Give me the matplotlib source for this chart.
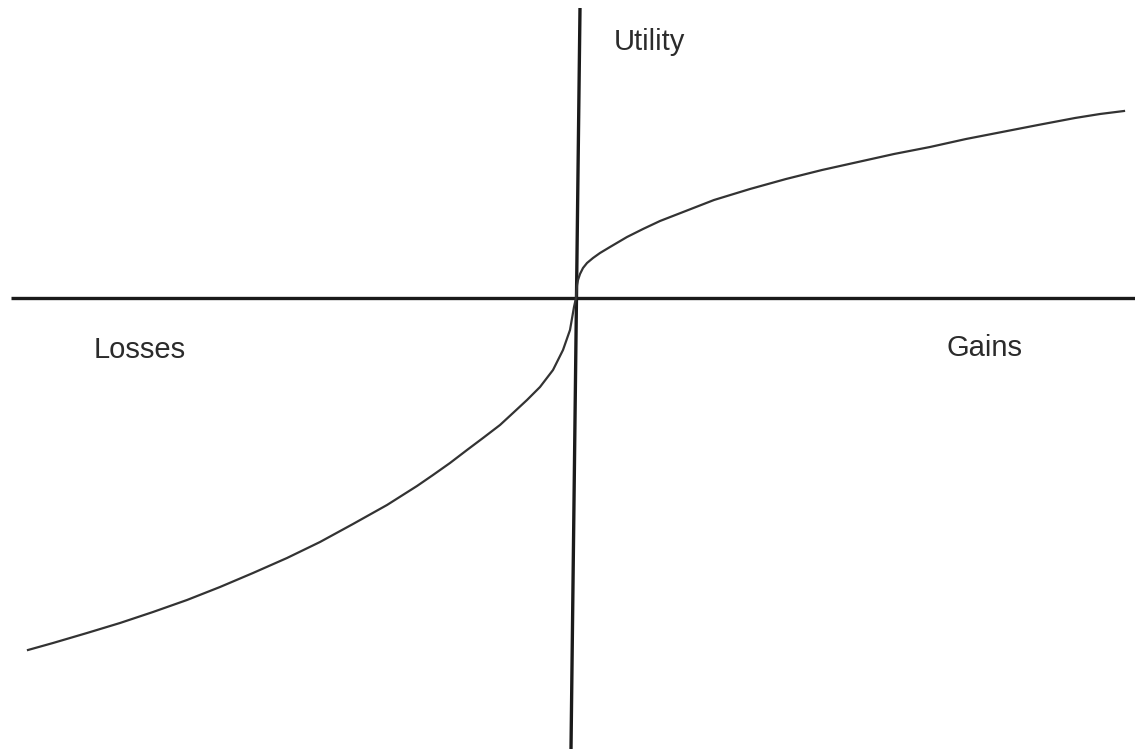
import matplotlib
matplotlib.use("Agg")
import matplotlib.pyplot as plt

# curve, in pixel coords of the original (x right, y down)
gains_x = [576, 577, 578, 580, 583, 587, 593, 600, 610, 627, 643, 660, 678, 714,
           750, 786, 822, 858, 894, 930, 966, 1002, 1038, 1075, 1100, 1124]
gains_y = [298, 285, 280, 274, 268, 263, 258, 253, 247, 237, 229, 221, 214, 200,
           189, 179, 170, 162, 154, 147, 139, 132, 125, 118, 114, 111]

losses_x = [576, 574, 570, 563, 553, 540, 527, 513, 500, 483, 467, 450, 433, 417,
            387, 353, 320, 287, 253, 220, 187, 153, 120, 87, 53, 28]
losses_y = [298, 307, 330, 350, 370, 387, 400, 413, 425, 438, 450, 463, 475, 486,
            505, 524, 542, 558, 573, 587, 600, 612, 623, 633, 643, 650]

# axis lines: horizontal y=298 from x=11, vertical slightly tilted
h_axis_x = [11, 1135]
h_axis_y = [298, 298]
v_axis_x = [580, 571]
v_axis_y = [8, 749]

labels = ["Losses", "Gains", "Utility"]
label_x = [94, 947, 614]
label_y = [358, 356, 50]

plt.rcParams['font.family'] = ['Liberation Sans', 'DejaVu Sans']

fig = plt.figure(figsize=(11.35, 7.49), dpi=100)
ax = fig.add_axes([0, 0, 1, 1])
ax.set_xlim(0, 1135)
ax.set_ylim(749, 0)
ax.axis("off")

ax.plot(h_axis_x, h_axis_y, color="#1a1a1a", lw=2.4, solid_capstyle="butt")
ax.plot(v_axis_x, v_axis_y, color="#1a1a1a", lw=2.4, solid_capstyle="butt")
ax.plot(gains_x, gains_y, color="#333333", lw=1.6, solid_joinstyle="round")
ax.plot(losses_x, losses_y, color="#333333", lw=1.6, solid_joinstyle="round")

for txt, x, y in zip(labels, label_x, label_y):
    ax.text(x, y, txt, fontsize=21, color="#2b2b2b", ha="left", va="baseline")

fig.savefig("out.png", dpi=100)
